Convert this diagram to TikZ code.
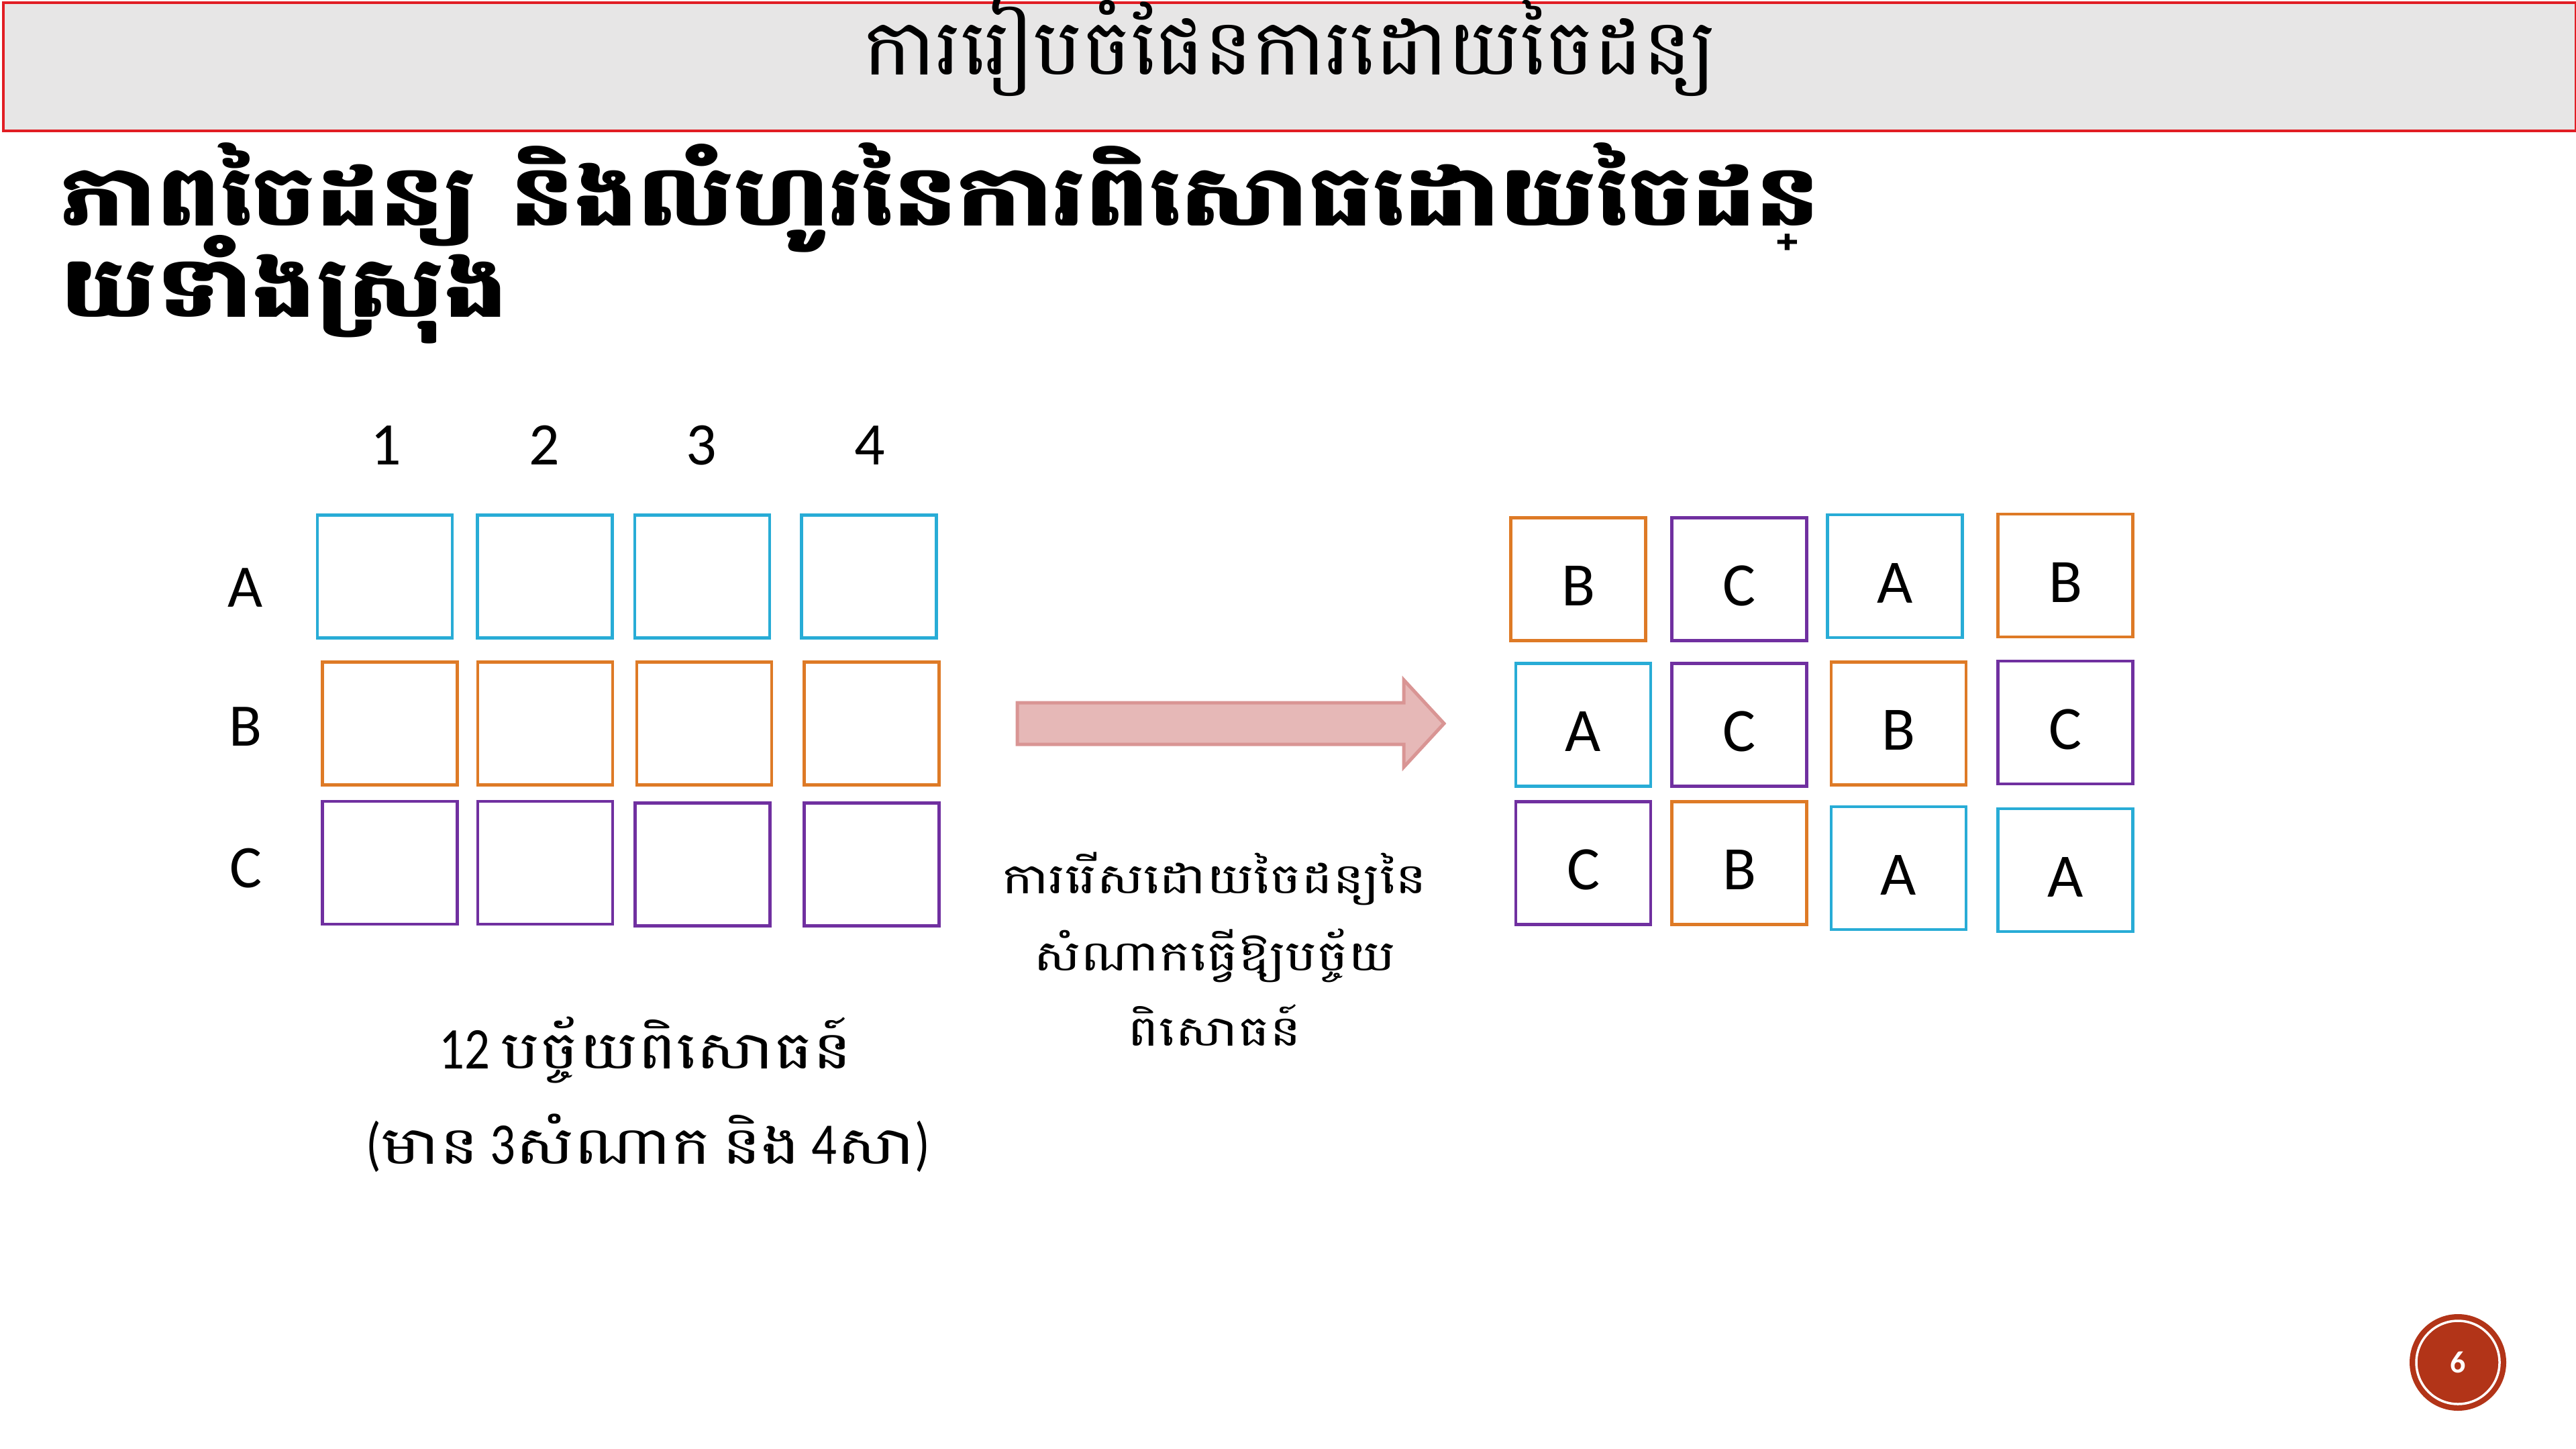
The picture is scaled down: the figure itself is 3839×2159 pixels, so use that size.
\documentclass[tikz,border=0pt]{standalone}
\usepackage{fontspec}
\setmainfont{Carlito}
\newfontfamily\kh[Script=Khmer]{Battambang}
\newfontfamily\khw[Script=Khmer,FakeStretch=1.25]{Battambang}
\newfontfamily\khh[Script=Khmer,FakeStretch=1.05]{Battambang}
\newfontfamily\khb[Script=Khmer,FakeStretch=1.2]{Battambang}
\newfontfamily\latc[FakeStretch=0.85]{Carlito}
\definecolor{cyanb}{RGB}{40,172,214}
\definecolor{orangeb}{RGB}{222,122,38}
\definecolor{purpleb}{RGB}{112,48,160}
\definecolor{titlegray}{RGB}{231,230,230}
\definecolor{titlered}{RGB}{225,30,36}
\definecolor{arrowfill}{RGB}{230,184,183}
\definecolor{arrowline}{RGB}{217,149,148}
\definecolor{pagered}{RGB}{178,52,24}
\newcommand{\khbig}[1]{{\khw\fontsize{78}{90}\selectfont #1}}
\begin{document}
\begin{tikzpicture}[x=1pt,y=-1pt,
  cell/.style={draw, line width=4.5pt, minimum width=201pt, minimum height=183pt, inner sep=0pt},
  ca/.style={cell, draw=cyanb}, cb/.style={cell, draw=orangeb}, cc/.style={cell, draw=purpleb},
  axislab/.style={font=\fontsize{90}{100}\selectfont, inner sep=0pt, anchor=base},
  celltxt/.style={font=\fontsize{92}{100}\selectfont, inner sep=0pt},
  khline/.style={font=\khw\fontsize{63}{80}\selectfont, inner sep=0pt, anchor=base},
  bottomline/.style={font=\latc\fontsize{88}{100}\selectfont, inner sep=0pt, anchor=base},
  headline/.style={font=\khb\bfseries\fontsize{125}{150}\selectfont, inner sep=0pt, anchor=base west}]
\fill[white] (0,0) rectangle (3839,2159);
\useasboundingbox (0,0) rectangle (3839,2159);
% title bar
\node[draw=titlered, fill=titlegray, line width=4pt, minimum width=3834pt, minimum height=191pt, inner sep=0pt, anchor=north west] (bar) at (2.5,2.5) {};
\node[anchor=base, inner sep=0pt, font=\khh\fontsize{116}{130}\selectfont] (title) at (1922,112) {ការរៀបចំផែនការដោយចៃដន្យ};
% heading
\node[headline] (h1) at (90,337) {ភាពចៃដន្យ និងលំហូរនៃការពិសោធដោយចៃដន្};
\node[headline] (h2) at (90,472) {យទាំងស្រុង};
% column and row labels
\node[axislab] (c1) at (575,692) {1};
\node[axislab] (c2) at (811,692) {2};
\node[axislab] (c3) at (1045,692) {3};
\node[axislab] (c4) at (1296,692) {4};
\node[axislab] (rA) at (366,904) {A};
\node[axislab] (rB) at (366,1111) {B};
\node[axislab] (rC) at (366,1322) {C};
% left grid
\node[ca] (LA1) at (573.5,859) {};
\node[ca] (LA2) at (812,859) {};
\node[ca] (LA3) at (1046.5,859) {};
\node[ca] (LA4) at (1295,859) {};
\node[cb] (LB1) at (581,1078) {};
\node[cb] (LB2) at (812.5,1078) {};
\node[cb] (LB3) at (1049.5,1078) {};
\node[cb] (LB4) at (1299,1078) {};
\node[cc] (LC1) at (581,1285.5) {};
\node[cc] (LC2) at (812.5,1285.5) {};
\node[cc] (LC3) at (1047,1288) {};
\node[cc] (LC4) at (1299,1288) {};
% right grid
\node[cb] (R11) at (2352,863) {};
\node[cc] (R12) at (2592,863) {};
\node[ca] (R13) at (2824,858.5) {};
\node[cb] (R14) at (3078,857.5) {};
\node[ca] (R21) at (2359.5,1080) {};
\node[cc] (R22) at (2592,1080) {};
\node[cb] (R23) at (2829.5,1078) {};
\node[cc] (R24) at (3078,1076.5) {};
\node[cc] (R31) at (2359.5,1286) {};
\node[cb] (R32) at (2592,1286) {};
\node[ca] (R33) at (2829.5,1293.5) {};
\node[ca] (R34) at (3078,1296.5) {};
\node[celltxt] (t11) at ([yshift=-10pt]R11.center) {B};
\node[celltxt] (t12) at ([yshift=-10pt]R12.center) {C};
\node[celltxt] (t13) at ([yshift=-10pt]R13.center) {A};
\node[celltxt] (t14) at ([yshift=-10pt]R14.center) {B};
\node[celltxt] (t21) at ([yshift=-10pt]R21.center) {A};
\node[celltxt] (t22) at ([yshift=-10pt]R22.center) {C};
\node[celltxt] (t23) at ([yshift=-10pt]R23.center) {B};
\node[celltxt] (t24) at ([yshift=-10pt]R24.center) {C};
\node[celltxt] (t31) at ([yshift=-10pt]R31.center) {C};
\node[celltxt] (t32) at ([yshift=-10pt]R32.center) {B};
\node[celltxt] (t33) at ([yshift=-10pt]R33.center) {A};
\node[celltxt] (t34) at ([yshift=-10pt]R34.center) {A};
% block arrow
\coordinate (a1) at (1516,1047);
\coordinate (a2) at (2092,1047);
\coordinate (a3) at (2092,1013);
\coordinate (a4) at (2152,1078);
\coordinate (a5) at (2092,1143);
\coordinate (a6) at (2092,1109);
\coordinate (a7) at (1516,1109);
\draw[draw=arrowline, fill=arrowfill, line width=5pt, line join=miter] (a1) -- (a2) -- (a3) -- (a4) -- (a5) -- (a6) -- (a7) -- cycle;
% text under arrow
\node[khline] (m1) at (1810,1331) {ការរើសដោយចៃដន្យនៃ};
\node[khline] (m2) at (1810,1446) {សំណាកធ្វើឱ្យបច្ច័យ};
\node[khline] (m3) at (1810,1558) {ពិសោធន៍};
% bottom text
\node[bottomline] (b1) at (962,1592) {12 \khbig{បច្ច័យពិសោធន៍}};
\node[bottomline] (b2) at (966,1734) {(\khbig{មាន} 3\khbig{សំណាក} \khbig{និង} 4\khbig{សា})};
% page number
\node[circle, fill=pagered, minimum size=144pt, inner sep=0pt] (pg) at (3663,2030) {};
\draw[white, line width=3.5pt] (pg.center) circle[radius=62pt];
\node[text=white, inner sep=0pt, font=\bfseries\fontsize{46}{50}\selectfont] (pgn) at (pg.center) {6};
\end{tikzpicture}
\end{document}
